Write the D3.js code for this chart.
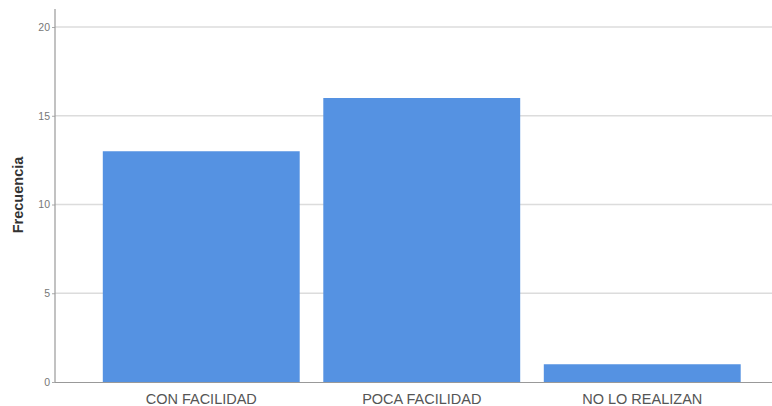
<!DOCTYPE html>
<html><head><meta charset="utf-8">
<script src="https://cdn.jsdelivr.net/npm/d3@7"></script>
<style>body{margin:0;background:#fff}svg{display:block}</style>
</head><body>
<svg id="c" width="772" height="406"></svg>
<script>
const categories = ["CON FACILIDAD", "POCA FACILIDAD", "NO LO REALIZAN"];
const values = [13, 16, 1];
const yTicks = [0, 5, 10, 15, 20];

const svg = d3.select("#c");
const y = d3.scaleLinear().domain([0, 20]).range([382, 27]);
const x = d3.scaleBand().domain(categories).range([91, 752.5]).paddingInner(0.107).paddingOuter(0.0535);

// gridlines
svg.append("g").selectAll("line").data(yTicks.filter(d => d > 0)).join("line")
  .attr("x1", 55).attr("x2", 772)
  .attr("y1", d => y(d)).attr("y2", d => y(d))
  .attr("stroke", "#dcdcdc").attr("stroke-width", 1.5);

// bars
svg.append("g").selectAll("rect").data(values).join("rect")
  .attr("x", (d, i) => x(categories[i]))
  .attr("width", x.bandwidth())
  .attr("y", d => y(d))
  .attr("height", d => y(0) - y(d))
  .attr("fill", "#5592e2");

// y axis
const ya = svg.append("g").attr("transform", "translate(55,0)")
  .call(d3.axisLeft(y).tickValues(yTicks).tickSize(3).tickPadding(2));
ya.select(".domain").remove();
ya.selectAll(".tick line").attr("stroke", "#aaa");
ya.selectAll("text").attr("font-family", "Arial, 'Liberation Sans', sans-serif").attr("font-size", 10.5).attr("fill", "#777");
svg.append("line").attr("x1", 55).attr("x2", 55).attr("y1", 9).attr("y2", 382).attr("stroke", "#999").attr("stroke-width", 1.2);

// x axis
svg.append("line").attr("x1", 55).attr("x2", 772).attr("y1", 382.5).attr("y2", 382.5).attr("stroke", "#999").attr("stroke-width", 1.2);
const xa = svg.append("g").attr("transform", "translate(0,382)")
  .call(d3.axisBottom(x).tickSize(0));
xa.select(".domain").remove();
xa.selectAll("text").attr("y", 22).attr("dy", 0)
  .attr("font-family", "Arial, 'Liberation Sans', sans-serif").attr("font-size", 14.5).attr("fill", "#555");

// y label
svg.append("text").attr("transform", "translate(23,195) rotate(-90)")
  .attr("text-anchor", "middle").attr("font-family", "Arial, 'Liberation Sans', sans-serif")
  .attr("font-weight", "bold").attr("font-size", 14.5).attr("fill", "#333").text("Frecuencia");
</script>
</body></html>
